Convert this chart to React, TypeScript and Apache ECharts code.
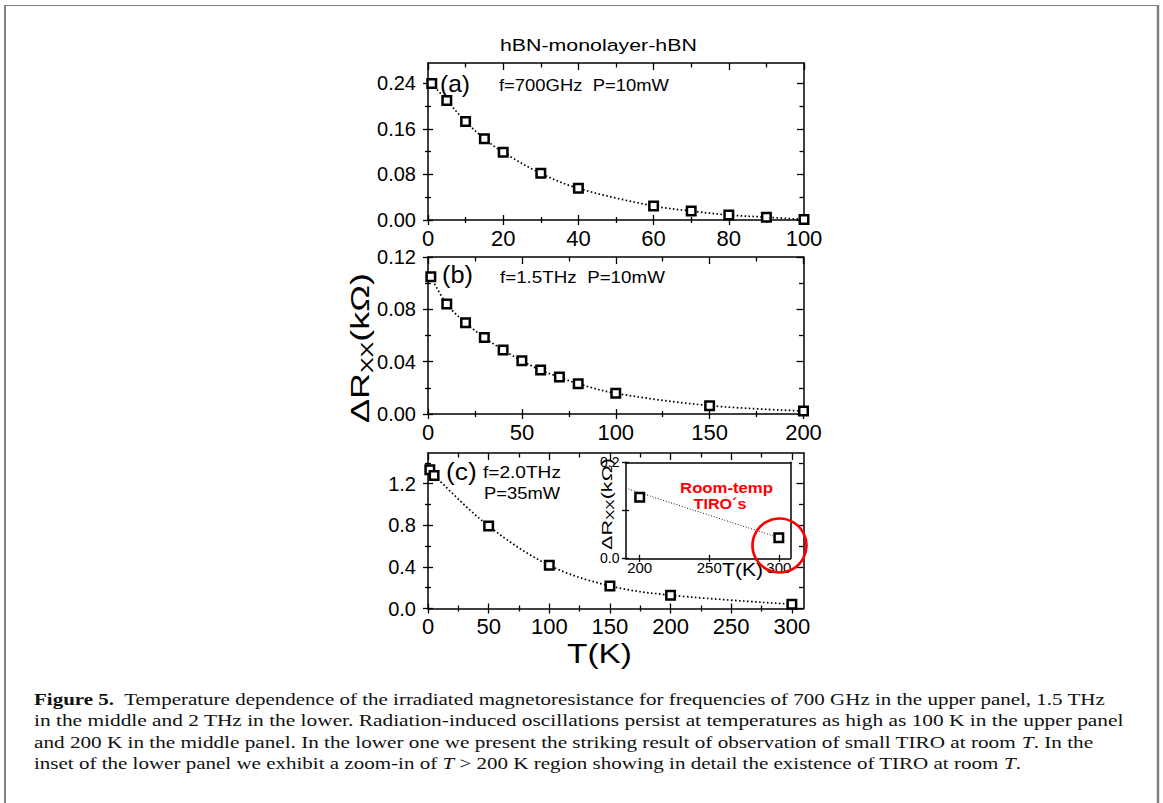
import React, { useEffect, useRef } from 'react';
import * as echarts from 'echarts';

// ---------- data ----------
const tA = [1, 5, 10, 15, 20, 30, 40, 60, 70, 80, 90, 100];
const rA = [0.24, 0.21, 0.173, 0.143, 0.119, 0.082, 0.0556, 0.0246, 0.0158, 0.0088, 0.005, 0.001];
const tB = [1.5, 10, 20, 30, 40, 50, 60, 70, 80, 100, 150, 200];
const rB = [0.105, 0.084, 0.0697, 0.0585, 0.0489, 0.0407, 0.0336, 0.0282, 0.0231, 0.0158, 0.0064, 0.0023];
const tC = [1.5, 5, 50, 100, 150, 200, 300];
const rC = [1.333, 1.279, 0.793, 0.415, 0.217, 0.128, 0.041];
const tInset = [200, 300];
const rInset = [0.127, 0.043];
const tInsetFit = [190, 300];
const rInsetFit = [0.146, 0.043];

// ---------- ticks ----------
const xTicksA = [0, 20, 40, 60, 80, 100];
const xMinorA = [10, 30, 50, 70, 90];
const yTicksA = [0, 0.08, 0.16, 0.24];
const yMinorA = [0.04, 0.12, 0.2];
const xTicksB = [0, 50, 100, 150, 200];
const xMinorB = [25, 75, 125, 175];
const yTicksB = [0, 0.04, 0.08, 0.12];
const yMinorB = [0.02, 0.06, 0.1];
const xTicksC = [0, 50, 100, 150, 200, 250, 300];
const xMinorC = [25, 75, 125, 175, 225, 275];
const yTicksC = [0, 0.4, 0.8, 1.2];
const yMinorC = [0.2, 0.6, 1.0, 1.4];
const xTicksIn = [200, 250, 300];
const yTicksIn = [0, 0.1, 0.2];
const yLabelsIn = [0, 0.2];

const SANS = '"Liberation Sans", Arial, Helvetica, sans-serif';
const SERIF = '"Liberation Serif", "Times New Roman", serif';

const caption = [
  { pre: 'Figure 5.', text: '  Temperature dependence of the irradiated magnetoresistance for frequencies of 700 GHz in the upper panel, 1.5 THz', end: 1106 },
  { pre: '', text: 'in the middle and 2 THz in the lower. Radiation-induced oscillations persist at temperatures as high as 100 K in the upper panel', end: 1125 },
  { pre: '', text: 'and 200 K in the middle panel. In the lower one we present the striking result of observation of small TIRO at room {i|T}. In the', end: 1093 },
  { pre: '', text: 'inset of the lower panel we exhibit a zoom-in of {i|T} > 200 K region showing in detail the existence of TIRO at room {i|T}.', end: 1022 },
];

let measureCtx: CanvasRenderingContext2D | null = null;
function widthOf(text: string, size: number, family: string, weight = 'normal', style = 'normal') {
  if (!measureCtx) measureCtx = document.createElement('canvas').getContext('2d');
  if (!measureCtx) return text.length * size * 0.5;
  measureCtx.font = `${style} ${weight} ${size}px ${family}`;
  return measureCtx.measureText(text).width;
}

function txt(text: string, x: number, y: number, size: number, target: number, opts: any = {}) {
  const weight = opts.weight || 'normal';
  const w = widthOf(text, size, SANS, weight);
  return {
    type: 'text',
    x,
    y,
    scaleX: target / w,
    z: 100,
    style: {
      text,
      fontSize: size,
      fontFamily: SANS,
      fontWeight: weight,
      fill: opts.color || '#000',
      align: opts.align || 'left',
      textAlign: opts.align || 'left',
      verticalAlign: 'middle',
      textVerticalAlign: 'middle',
    },
  };
}

function yLabel(cx: number, cy: number, big: number, small: number, target: number) {
  const w = widthOf('ΔR', big, SANS) + widthOf('XX', small, SANS) + widthOf('(kΩ)', big, SANS);
  return {
    type: 'text',
    x: cx,
    y: cy,
    rotation: Math.PI / 2,
    scaleX: target / w,
    z: 100,
    style: {
      text: '{m|ΔR}{s|XX}{m|(kΩ)}',
      align: 'center',
      textAlign: 'center',
      verticalAlign: 'middle',
      textVerticalAlign: 'middle',
      fill: '#000',
      rich: {
        m: { fontSize: big, fontFamily: SANS, fill: '#000', lineHeight: big * 1.15 },
        s: { fontSize: small, fontFamily: SANS, fill: '#000', lineHeight: small, verticalAlign: 'bottom' },
      },
    },
  };
}

type AxisDef = {
  min: number;
  max: number;
  majors: number[];
  minors: number[];
  labels: number[];
  fmt: (v: number) => string;
  fontSize: number;
  margin: number;
};

function axisSet(dim: 'x' | 'y', gi: number, a: AxisDef, small: boolean) {
  const near = dim === 'x' ? 'bottom' : 'left';
  const far = dim === 'x' ? 'top' : 'right';
  const L = small ? { maj: 3.5, min: 2.5, far: 0, farMin: 0 } : { maj: 5, min: 3, far: 7, farMin: 4.5 };
  const mk = (position: string, line: boolean, values: number[], inside: boolean, length: number, label = false) => ({
    type: 'value',
    gridIndex: gi,
    min: a.min,
    max: a.max,
    position,
    offset: 0,
    axisLine: { show: line, onZero: false, lineStyle: { color: '#000', width: 1.5 } },
    axisTick: {
      show: values.length > 0 && length > 0,
      inside,
      length,
      customValues: values,
      lineStyle: { color: '#000', width: 1.3 },
    },
    axisLabel: label
      ? {
          show: true,
          customValues: a.labels,
          formatter: (v: number) => a.fmt(v),
          fontSize: a.fontSize,
          fontFamily: SANS,
          color: '#000',
          margin: a.margin,
        }
      : { show: false },
    splitLine: { show: false },
    minorTick: { show: false },
    axisPointer: { show: false },
  });
  return [
    mk(near, true, a.majors, false, L.maj, true),
    mk(near, false, a.majors, true, L.maj),
    mk(near, false, a.minors, false, L.min),
    mk(near, false, a.minors, true, L.min),
    mk(far, true, small ? [] : a.majors, true, L.far),
    mk(far, false, small ? [] : a.minors, true, L.farMin),
  ];
}

const fx = (v: number) => String(Math.round(v));
const f2 = (v: number) => v.toFixed(2);
const f1 = (v: number) => v.toFixed(1);

function buildOption() {
  const panels = [
    {
      grid: { left: 428, top: 63, width: 376, height: 157 },
      x: { min: 0, max: 100, majors: xTicksA, minors: xMinorA, labels: xTicksA, fmt: fx, fontSize: 22, margin: 7 },
      y: { min: 0, max: 0.276, majors: yTicksA, minors: yMinorA, labels: yTicksA, fmt: f2, fontSize: 20, margin: 12 },
      t: tA, r: rA, small: false,
    },
    {
      grid: { left: 428, top: 257, width: 375.5, height: 157 },
      x: { min: 0, max: 200, majors: xTicksB, minors: xMinorB, labels: xTicksB, fmt: fx, fontSize: 22, margin: 7 },
      y: { min: 0, max: 0.12, majors: yTicksB, minors: yMinorB, labels: yTicksB, fmt: f2, fontSize: 20, margin: 12 },
      t: tB, r: rB, small: false,
    },
    {
      grid: { left: 428, top: 453, width: 375.5, height: 155.5 },
      x: { min: 0, max: 309.6, majors: xTicksC, minors: xMinorC, labels: xTicksC, fmt: fx, fontSize: 22, margin: 7 },
      y: { min: 0, max: 1.494, majors: yTicksC, minors: yMinorC, labels: yTicksC, fmt: f1, fontSize: 20, margin: 12 },
      t: tC, r: rC, small: false,
    },
    {
      grid: { left: 625.5, top: 462.3, width: 165, height: 96 },
      x: { min: 189.8, max: 308.4, majors: xTicksIn, minors: [], labels: xTicksIn, fmt: fx, fontSize: 15, margin: 2 },
      y: { min: 0, max: 0.2, majors: yTicksIn, minors: [], labels: yLabelsIn, fmt: f1, fontSize: 14, margin: 6 },
      t: tInset, r: rInset, small: true,
    },
  ];

  const grids: any[] = [];
  const xAxes: any[] = [];
  const yAxes: any[] = [];
  const series: any[] = [];

  panels.forEach((p, gi) => {
    grids.push({
      ...p.grid,
      containLabel: false,
      show: p.small,
      backgroundColor: '#fff',
      borderWidth: 0,
      z: p.small ? 5 : 0,
    });
    const xs = axisSet('x', gi, p.x, p.small);
    const ys = axisSet('y', gi, p.y, p.small);
    const xi = xAxes.length;
    const yi = yAxes.length;
    xs.forEach((a: any) => xAxes.push({ ...a, z: p.small ? 6 : 0 }));
    ys.forEach((a: any) => yAxes.push({ ...a, z: p.small ? 6 : 0 }));

    const pts = p.t.map((t, i) => [t, p.r[i]]);
    if (!p.small) {
      series.push({
        type: 'line',
        xAxisIndex: xi,
        yAxisIndex: yi,
        data: pts,
        smooth: 0.35,
        showSymbol: false,
        silent: true,
        lineStyle: { color: '#000', width: 1.7, type: [1.6, 2.4] },
        z: 2,
      });
    } else {
      series.push({
        type: 'line',
        xAxisIndex: xi,
        yAxisIndex: yi,
        data: tInsetFit.map((t, i) => [t, rInsetFit[i]]),
        showSymbol: false,
        silent: true,
        lineStyle: { color: '#222', width: 1, type: [1, 1.8] },
        z: 7,
      });
    }
    series.push({
      type: 'scatter',
      xAxisIndex: xi,
      yAxisIndex: yi,
      data: pts,
      symbol: 'rect',
      symbolSize: 8.5,
      silent: true,
      itemStyle: { color: '#fff', borderColor: '#000', borderWidth: 2.5, opacity: 1 },
      z: p.small ? 8 : 3,
    });
  });

  // caption: each line stretched to its measured end in the reference
  const capY = [699, 720.5, 742, 763.5];
  const capEls = caption.map((c, i) => {
    const plain = c.text.replace(/\{i\|T\}/g, 'T');
    const w = widthOf(c.pre, 17, SERIF, 'bold') + widthOf(plain, 17, SERIF);
    return {
      type: 'text',
      x: 34,
      y: capY[i],
      scaleX: (c.end - 34) / w,
      z: 100,
      style: {
        text: (c.pre ? `{b|${c.pre}}` : '') + c.text,
        fontSize: 17,
        fontFamily: SERIF,
        fill: '#111',
        align: 'left',
        textAlign: 'left',
        verticalAlign: 'middle',
        textVerticalAlign: 'middle',
        rich: {
          b: { fontSize: 17, fontFamily: SERIF, fontWeight: 'bold', fill: '#111' },
          i: { fontSize: 17, fontFamily: SERIF, fontStyle: 'italic', fill: '#111' },
        },
      },
    };
  });

  const graphic = [
    // frame
    { type: 'line', z: 100, shape: { x1: 5, y1: 5, x2: 5, y2: 803 }, style: { stroke: '#808080', lineWidth: 2 } },
    { type: 'line', z: 100, shape: { x1: 4, y1: 5.5, x2: 1159, y2: 5.5 }, style: { stroke: '#808080', lineWidth: 1 } },
    { type: 'line', z: 100, shape: { x1: 1158, y1: 5, x2: 1158, y2: 803 }, style: { stroke: '#808080', lineWidth: 2.5 } },
    // titles and annotations
    txt('hBN-monolayer-hBN', 500, 45, 17, 197),
    txt('(a)', 440, 84, 23, 30),
    txt('f=700GHz  P=10mW', 499, 85, 17, 170),
    txt('(b)', 442, 275, 23, 31),
    txt('f=1.5THz  P=10mW', 500, 277, 17, 165),
    txt('(c)', 446, 472, 23, 30.7),
    txt('f=2.0THz', 483, 472, 17, 78),
    txt('P=35mW', 484, 493, 17, 76),
    txt('T(K)', 567, 653, 28, 65),
    yLabel(360, 348, 26, 17, 150),
    yLabel(607, 504, 14, 10, 92),
    txt('T(K)', 722, 570, 18, 41),
    txt('Room-temp', 726.5, 488, 15, 93, { weight: 'bold', color: '#ff0000', align: 'center' }),
    txt('TIRO´s', 720, 503.5, 15, 53, { weight: 'bold', color: '#ff0000', align: 'center' }),
    {
      type: 'circle',
      z: 100,
      shape: { cx: 779.5, cy: 545.5, r: 27 },
      style: { fill: 'none', stroke: '#ff0000', lineWidth: 2.7 },
    },
    ...capEls,
  ];

  return {
    animation: false,
    backgroundColor: '#fff',
    textStyle: { fontFamily: SANS },
    grid: grids,
    xAxis: xAxes,
    yAxis: yAxes,
    series,
    graphic: { elements: graphic },
  };
}

export default function App() {
  const ref = useRef<HTMLDivElement>(null);
  useEffect(() => {
    if (!ref.current) return;
    const chart = echarts.init(ref.current, null, { renderer: 'svg' });
    chart.setOption(buildOption() as any);
    return () => chart.dispose();
  }, []);
  return (
    <div
      ref={ref}
      style={{ position: 'absolute', left: 0, top: 0, width: 1163, height: 803, background: '#fff' }}
    />
  );
}
